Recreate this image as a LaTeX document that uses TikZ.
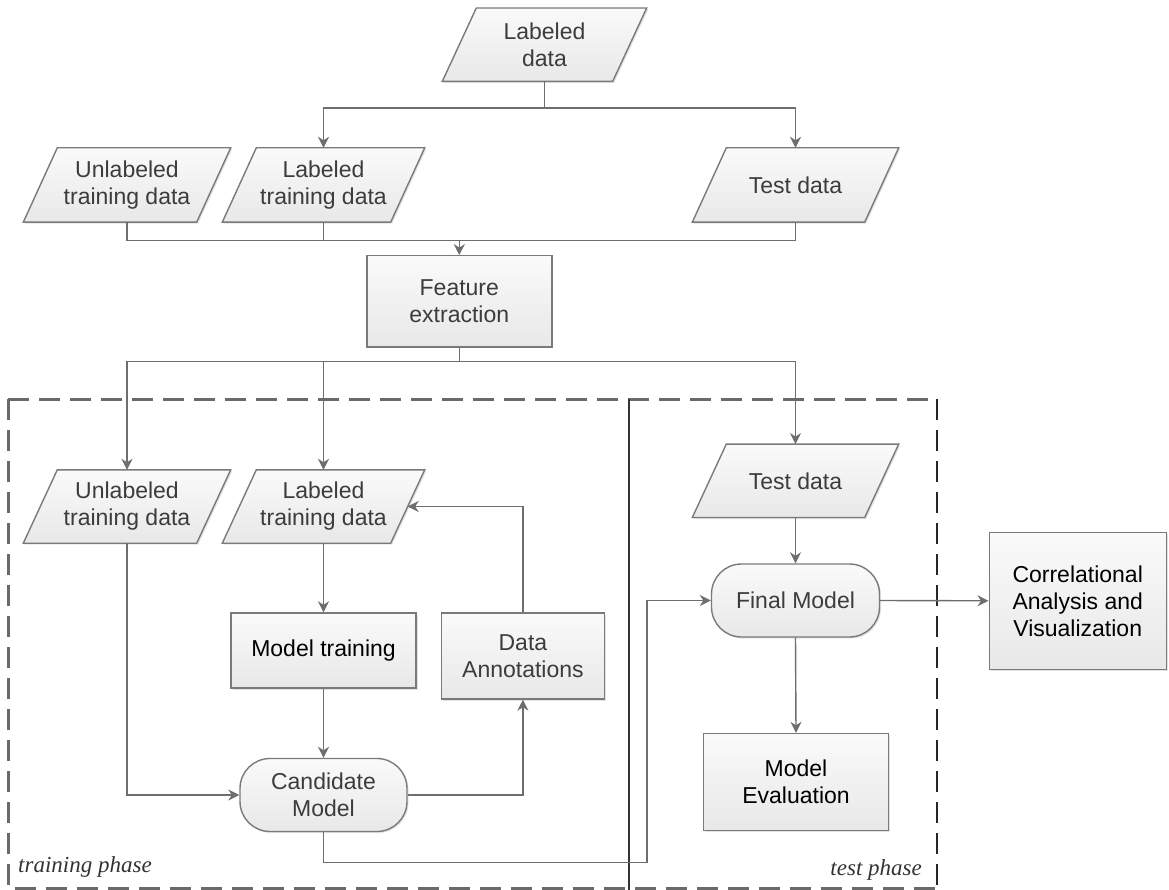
\documentclass[tikz,border=0pt]{standalone}
\usepackage{fontspec}
\setmainfont{Liberation Sans}
\newfontfamily\phasefont{Liberation Serif}
\usetikzlibrary{arrows.meta,shadows,backgrounds}
\definecolor{edgec}{HTML}{7A7A7A}
\definecolor{linec}{HTML}{6E6E6E}
\definecolor{txtc}{HTML}{3C3C3C}
\definecolor{dashc}{HTML}{6A6A6A}
\definecolor{fillt}{HTML}{FAFAFA}
\definecolor{fillb}{HTML}{E8E8E8}
\tikzset{
  base/.style={font=\fontsize{23}{27}\selectfont, text=txtc, align=center, inner sep=0pt},
  shadowed/.style={drop shadow={shadow xshift=1.5pt,shadow yshift=-1.5pt,opacity=.22}},
  boxed/.style={base, draw=edgec, line width=1.4pt, top color=fillt, bottom color=fillb, shadowed},
  rectbox/.style={boxed, rectangle},
  stadium/.style={boxed, rectangle, rounded corners=30pt},
  parabox/.style={base, rectangle, minimum height=73pt},
  parafill/.style={draw=edgec, line width=1.4pt, top color=fillt, bottom color=fillb, shadowed},
  conn/.style={draw=linec, line width=1.4pt},
  arr/.style={conn, -{Stealth[length=11pt,width=11pt,inset=3.5pt]}},
  dashbox/.style={draw=dashc, line width=2.6pt, dash pattern=on 21pt off 10pt},
  phaselabel/.style={font=\phasefont\itshape\fontsize{23}{27}\selectfont, text=black!80, inner sep=0pt},
}
\begin{document}
\begin{tikzpicture}[x=1pt,y=-1pt]
\useasboundingbox (0,0) rectangle (1169,890);

% phase boxes
\draw[dashbox] (8.3,399.3) -- (936.8,399.3);
\draw[dashbox] (8.3,399.3) -- (8.3,888.5) -- (936.8,888.5);
\draw[draw=black!85, line width=2pt, dash pattern=on 21pt off 10pt] (936.8,399.3) -- (936.8,888.5);
\draw[draw=black!80, line width=1.6pt] (629,399.3) -- (629,892);

% parallelogram nodes
\node[parabox, minimum width=170pt] (labdata) at (544.5,44.7) {Labeled\\data};
\node[parabox, minimum width=173pt, minimum height=74pt] (ulab1) at (127,185) {Unlabeled\\training data};
\node[parabox, minimum width=168pt, minimum height=74pt] (lab1) at (323.5,185) {Labeled\\training data};
\node[parabox, minimum width=172pt, minimum height=74pt] (test1) at (795.5,185) {Test data};
\node[parabox, minimum width=173pt] (ulab2) at (127,506.5) {Unlabeled\\training data};
\node[parabox, minimum width=168pt] (lab2) at (323.5,506.5) {Labeled\\training data};
\node[parabox, minimum width=172pt] (test2) at (795.5,480.8) {Test data};

\begin{scope}[on background layer]
\foreach \n in {labdata,ulab1,lab1,test1,ulab2,lab2,test2}{
  \path[parafill] ([xshift=-17pt]\n.south west) -- ([xshift=17pt]\n.north west)
     -- ([xshift=17pt]\n.north east) -- ([xshift=-17pt]\n.south east) -- cycle;
}
\end{scope}

% rectangles and stadiums
\node[rectbox, minimum width=185pt, minimum height=91pt] (feat) at (459.3,301.3) {Feature\\extraction};
\node[rectbox, minimum width=185pt, minimum height=75pt, text=black] (mtrain) at (323.5,650.5) {Model training};
\node[rectbox, minimum width=163pt, minimum height=86pt] (annot) at (522.9,656) {Data\\Annotations};
\node[stadium, minimum width=167pt, minimum height=73pt] (cand) at (323.5,795) {Candidate\\Model};
\node[stadium, minimum width=168pt, minimum height=73pt] (final) at (795.5,600.5) {Final Model};
\node[rectbox, minimum width=185pt, minimum height=97pt, text=black] (meval) at (796,782) {Model\\Evaluation};
\node[rectbox, minimum width=177pt, minimum height=137pt, text=black] (corr) at (1077.7,600.8) {Correlational\\Analysis and\\Visualization};

% junctions
\coordinate (j1) at (544.5,108);
\coordinate (j2) at (459.3,240.7);
\coordinate (j3) at (459.3,361.7);
\coordinate (k1) at (647,862.7);

% connectors
\draw[conn] (labdata.south) -- (j1);
\draw[arr] (j1) -| (lab1.north);
\draw[arr] (j1) -| (test1.north);
\draw[conn] (ulab1.south) |- (j2);
\draw[conn] (lab1.south) |- (j2);
\draw[conn] (test1.south) |- (j2);
\draw[arr] (j2) -- (feat.north);
\draw[conn] (feat.south) -- (j3);
\draw[arr] (j3) -| (ulab2.north);
\draw[arr] (j3) -| (lab2.north);
\draw[arr] (j3) -| (test2.north);
\draw[arr] (lab2.south) -- (mtrain.north);
\draw[arr] (mtrain.south) -- (cand.north);
\draw[arr] (ulab2.south) |- (cand.west);
\draw[arr] (cand.east) -| (annot.south);
\draw[arr] (annot.north) |- (lab2.east);
\draw[arr] (cand.south) |- (k1) |- (final.west);
\draw[arr] (test2.south) -- (final.north);
\draw[arr] (final.south) -- (meval.north);
\draw[arr] (final.east) -- (corr.west);

% phase labels
\node[phaselabel, anchor=base west] (trlab) at (18,872) {training phase};
\node[phaselabel, anchor=base east] (telab) at (922,875) {test phase};
\end{tikzpicture}
\end{document}
